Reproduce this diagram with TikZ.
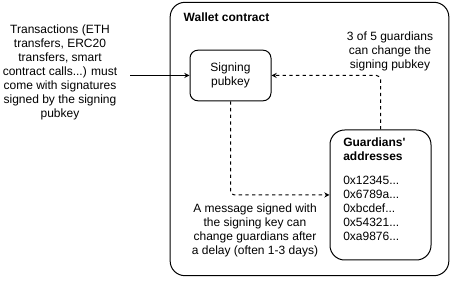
\documentclass[tikz,border=0pt]{standalone}
\usepackage{fontspec}
\setmainfont{Liberation Sans}[Ligatures=TeXOff]
\usetikzlibrary{positioning}

\begin{document}
\begin{tikzpicture}[>=stealth, x=0.75pt, y=-0.75pt,
  every node/.style={font=\fontsize{9}{10.5}\selectfont},
  box/.style={draw, rounded corners=6pt, line width=0.75pt},
  link/.style={->, line width=0.75pt, dash pattern=on 2.5pt off 2.5pt, rounded corners=3pt}]
  \useasboundingbox (0,0) rectangle (451,281);
  % wallet contract frame
  \node[box, rounded corners=11pt, minimum width=209pt, minimum height=205pt]
    (wallet) at (309.5,139) {};
  \node[anchor=west, font=\fontsize{9}{10.5}\selectfont\bfseries]
    (wtitle) at (179,17) {Wallet contract};
  % signing key and guardians
  \node[box, minimum width=60.75pt, minimum height=38pt, align=center]
    (sign) at (230.5,75.5) {Signing\\pubkey};
  \node[box, rounded corners=11pt, minimum width=75.75pt, minimum height=97.5pt]
    (guard) at (380.5,195) {};
  \node[anchor=north west, align=left, inner sep=0pt] (glist) at (343,138)
    {\textbf{Guardians'}\\\textbf{addresses}\\[7pt]
     0x12345...\\0x6789a...\\0xbcdef...\\0x54321...\\0xa9876...};
  % incoming transactions
  \node[align=center] (tx) at (60,72.5)
    {Transactions (ETH\\transfers, ERC20\\transfers, smart\\contract calls...) must\\come with signatures\\signed by the signing\\pubkey};
  \coordinate (txend) at (130,75.5);
  \draw[->, line width=0.75pt] (txend) -- (sign.west);
  % guardians can reset the key
  \draw[link] (guard.north) |- (sign.east);
  \node[align=center] (gnote) at (390,51)
    {3 of 5 guardians\\can change the\\signing pubkey};
  % key can change guardians
  \draw[link] (sign.south) |- (guard.west);
  \node[align=center] (knote) at (255,230.5)
    {A message signed with\\the signing key can\\change guardians after\\a delay (often 1-3 days)};
\end{tikzpicture}
\end{document}
